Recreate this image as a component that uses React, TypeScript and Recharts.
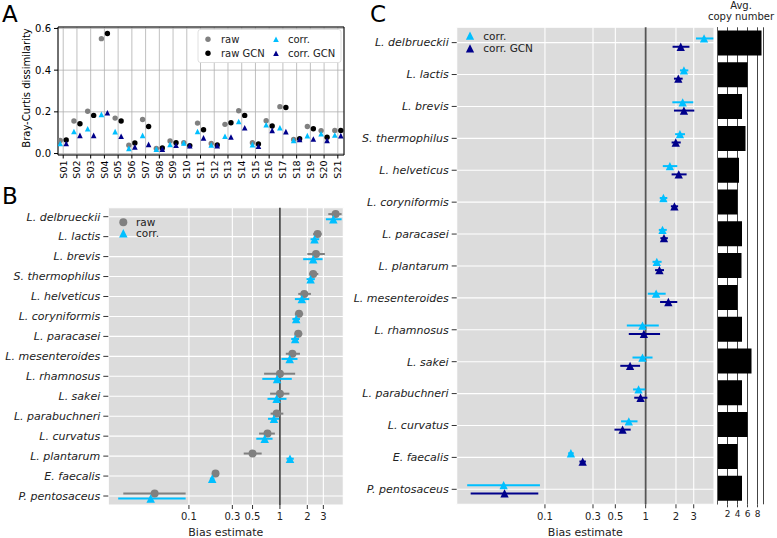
import React from "react";
import {
  ScatterChart,
  Scatter,
  XAxis,
  YAxis,
  CartesianGrid,
  ErrorBar,
  ReferenceLine,
  BarChart,
  Bar,
} from "recharts";

const FONT = '"DejaVu Sans", sans-serif';
const GREY = "#808080";
const BLACK = "#000000";
const SKY = "#00bfff";
const NAVY = "#00008b";
const TXT = "#222";

// ---- panel A: Bray-Curtis dissimilarity per sample ----
const samples = [
  "S01", "S02", "S03", "S04", "S05", "S06", "S07", "S08", "S09", "S10", "S11",
  "S12", "S13", "S14", "S15", "S16", "S17", "S18", "S19", "S20", "S21",
];
const bcRaw = [0.063, 0.156, 0.203, 0.551, 0.170, 0.040, 0.163, 0.024, 0.060, 0.052, 0.146, 0.048, 0.140, 0.205, 0.052, 0.157, 0.225, 0.067, 0.130, 0.110, 0.111];
const bcRawGcn = [0.065, 0.143, 0.183, 0.576, 0.156, 0.051, 0.130, 0.027, 0.052, 0.038, 0.114, 0.041, 0.148, 0.183, 0.046, 0.132, 0.221, 0.071, 0.119, 0.078, 0.111];
const bcCorr = [0.048, 0.106, 0.119, 0.188, 0.105, 0.025, 0.087, 0.021, 0.044, 0.051, 0.106, 0.041, 0.083, 0.154, 0.043, 0.138, 0.124, 0.063, 0.086, 0.095, 0.089];
const bcCorrGcn = [0.048, 0.087, 0.087, 0.196, 0.083, 0.032, 0.044, 0.021, 0.040, 0.038, 0.075, 0.038, 0.079, 0.124, 0.035, 0.111, 0.105, 0.067, 0.070, 0.063, 0.086];
const bcTicks = [0, 0.2, 0.4, 0.6];

// ---- panel B: bias estimates, raw vs corrected ----
const speciesB = [
  "L. delbrueckii", "L. lactis", "L. brevis", "S. thermophilus", "L. helveticus",
  "L. coryniformis", "L. paracasei", "L. mesenteroides", "L. rhamnosus", "L. sakei",
  "L. parabuchneri", "L. curvatus", "L. plantarum", "E. faecalis", "P. pentosaceus",
];
const rawB = [4.09, 2.59, 2.49, 2.32, 1.85, 1.62, 1.59, 1.37, 1.0, 1.0, 0.92, 0.73, 0.5, 0.196, 0.042];
const rawLoB = [3.4, 2.32, 2.0, 2.1, 1.59, 1.46, 1.45, 1.16, 0.67, 0.78, 0.79, 0.59, 0.4, 0.185, 0.019];
const rawHiB = [4.76, 2.87, 3.12, 2.64, 2.19, 1.8, 1.76, 1.66, 1.47, 1.27, 1.09, 0.88, 0.63, 0.21, 0.092];
const corrB = [3.86, 2.4, 2.32, 2.17, 1.74, 1.51, 1.47, 1.28, 0.93, 0.92, 0.86, 0.68, 1.29, 0.18, 0.038];
const corrLoB = [3.2, 2.17, 1.8, 1.96, 1.46, 1.37, 1.33, 1.04, 0.64, 0.73, 0.74, 0.55, 1.18, 0.17, 0.0167];
const corrHiB = [4.76, 2.7, 2.94, 2.42, 2.1, 1.66, 1.62, 1.56, 1.35, 1.18, 0.98, 0.83, 1.42, 0.19, 0.092];

// ---- panel C: corrected vs corrected with gene copy number ----
const speciesC = [
  "L. delbrueckii", "L. lactis", "L. brevis", "S. thermophilus", "L. helveticus",
  "L. coryniformis", "L. paracasei", "L. plantarum", "L. mesenteroides", "L. rhamnosus",
  "L. sakei", "L. parabuchneri", "L. curvatus", "E. faecalis", "P. pentosaceus",
];
const corrC = [3.8, 2.4, 2.33, 2.19, 1.74, 1.5, 1.47, 1.29, 1.27, 0.93, 0.93, 0.85, 0.68, 0.181, 0.0389];
const corrLoC = [3.16, 2.19, 1.84, 1.96, 1.48, 1.38, 1.35, 1.17, 1.05, 0.65, 0.74, 0.75, 0.57, 0.17, 0.0169];
const corrHiC = [4.7, 2.65, 2.97, 2.46, 2.06, 1.64, 1.62, 1.44, 1.58, 1.35, 1.17, 0.99, 0.83, 0.193, 0.0892];
const gcnC = [2.23, 2.11, 2.4, 1.99, 2.13, 1.93, 1.52, 1.37, 1.68, 0.96, 0.7, 0.89, 0.59, 0.237, 0.0397];
const gcnLoC = [1.85, 1.91, 1.91, 1.81, 1.81, 1.78, 1.4, 1.24, 1.39, 0.68, 0.56, 0.77, 0.49, 0.22, 0.0183];
const gcnHiC = [2.72, 2.33, 3.04, 2.23, 2.55, 2.1, 1.66, 1.52, 2.06, 1.39, 0.88, 1.04, 0.71, 0.255, 0.0859];
const copyNumber = [8.8, 6.0, 4.9, 5.6, 4.3, 4.0, 4.9, 4.8, 4.0, 4.9, 6.8, 4.9, 6.0, 4.0, 4.9];

const biasTicks = [0.1, 0.3, 0.5, 1, 2, 3];
const copyTicks = [2, 4, 6, 8];

// marker shapes (matplotlib-ish "o" and "^")
type Pt = { cx?: number; cy?: number };
const dot = (fill: string, r: number, dx = 0) => (p: Pt) => (
  <circle cx={(p.cx ?? 0) + dx} cy={p.cy ?? 0} r={r} fill={fill} />
);
const tri = (fill: string, s: number, dx = 0) => (p: Pt) => {
  const x = (p.cx ?? 0) + dx;
  const y = p.cy ?? 0;
  const h = s / 2;
  return <path d={`M${x},${y - h}L${x + h},${y + h}L${x - h},${y + h}Z`} fill={fill} />;
};

const pointsA = (vals: number[]) => vals.map((v, i) => ({ x: i + 1, v }));
const rowsWithErr = (vals: number[], lo: number[], hi: number[], shift: number) =>
  vals.map((v, i) => ({ x: v, y: i + shift, err: [v - lo[i], hi[i] - v] }));

const SampleTick = (p: any) => {
  const label = samples[Math.round(p.payload.value) - 1];
  return (
    <text
      x={p.x}
      y={p.y}
      transform={`rotate(-90 ${p.x} ${p.y})`}
      textAnchor="end"
      dy="0.35em"
      fontSize={9.5}
      fill="#000"
    >
      {label}
    </text>
  );
};

// plain italic species label, no wrapping
const speciesTick = (names: string[]) => (p: any) => (
  <text
    x={p.x}
    y={p.y}
    textAnchor="end"
    dy="0.35em"
    fontSize={11}
    fontStyle="italic"
    fill={TXT}
  >
    {names[Math.round(p.payload.value)]}
  </text>
);

function PanelA() {
  return (
    <ScatterChart width={350} height={200} margin={{ top: 27, right: 6, bottom: 0, left: 0 }}>
      <CartesianGrid stroke="#b0b0b0" strokeWidth={0.8} />
      <XAxis
        type="number"
        dataKey="x"
        domain={[0.62, 21.45]}
        allowDataOverflow
        ticks={samples.map((_, i) => i + 1)}
        interval={0}
        height={45}
        stroke="#000"
        tickSize={3.5}
        tickMargin={2}
        tick={SampleTick}
      />
      <YAxis
        type="number"
        dataKey="v"
        domain={[-0.007, 0.607]}
        allowDataOverflow
        ticks={bcTicks}
        interval={0}
        tickFormatter={(v: number) => v.toFixed(1)}
        width={58}
        stroke="#000"
        tickSize={4}
        tickMargin={3}
        tick={{ fill: "#000", fontSize: 10 }}
      />
      <ReferenceLine y={0.607} stroke="#000" ifOverflow="visible" />
      <ReferenceLine x={21.45} stroke="#000" ifOverflow="visible" />
      <Scatter data={pointsA(bcRaw)} fill={GREY} shape={dot(GREY, 2.7, -3)} isAnimationActive={false} />
      <Scatter data={pointsA(bcRawGcn)} fill={BLACK} shape={dot(BLACK, 2.7, 3)} isAnimationActive={false} />
      <Scatter data={pointsA(bcCorr)} fill={SKY} shape={tri(SKY, 5.6, -3)} isAnimationActive={false} />
      <Scatter data={pointsA(bcCorrGcn)} fill={NAVY} shape={tri(NAVY, 5.6, 3)} isAnimationActive={false} />
    </ScatterChart>
  );
}

function PanelB() {
  return (
    <ScatterChart width={350} height={368} margin={{ top: 37.7, right: 6.7, bottom: 0, left: 0 }}>
      <CartesianGrid fill="#dcdcdc" fillOpacity={1} stroke="#fff" strokeWidth={1.1} />
      <XAxis
        type="number"
        dataKey="x"
        scale="log"
        domain={[0.013, 4.97]}
        allowDataOverflow
        ticks={biasTicks}
        interval={0}
        height={33}
        axisLine={false}
        tickLine={{ stroke: "#333" }}
        tickSize={4}
        tickMargin={4}
        tick={{ fill: TXT, fontSize: 10 }}
        label={{ value: "Bias estimate", position: "insideBottom", offset: 2, fill: TXT, fontSize: 11 }}
      />
      <YAxis
        type="number"
        dataKey="y"
        reversed
        domain={[-0.45, 14.45]}
        allowDataOverflow
        ticks={speciesB.map((_, i) => i)}
        interval={0}
        width={108.3}
        axisLine={false}
        tickLine={{ stroke: "#333" }}
        tickSize={5}
        tickMargin={3}
        tick={speciesTick(speciesB)}
      />
      <ReferenceLine x={1} stroke="#111" strokeWidth={1.3} />
      <Scatter data={rowsWithErr(rawB, rawLoB, rawHiB, -0.13)} fill={GREY} shape={dot(GREY, 4)} isAnimationActive={false}>
        <ErrorBar dataKey="err" direction="x" width={0} stroke={GREY} strokeWidth={2} />
      </Scatter>
      <Scatter data={rowsWithErr(corrB, corrLoB, corrHiB, 0.13)} fill={SKY} shape={tri(SKY, 8.5)} isAnimationActive={false}>
        <ErrorBar dataKey="err" direction="x" width={0} stroke={SKY} strokeWidth={2} />
      </Scatter>
    </ScatterChart>
  );
}

function PanelC() {
  return (
    <ScatterChart width={366} height={538} margin={{ top: 27.3, right: 2, bottom: 0, left: 0 }}>
      <CartesianGrid fill="#dcdcdc" fillOpacity={1} stroke="#fff" strokeWidth={1.1} />
      <XAxis
        type="number"
        dataKey="x"
        scale="log"
        domain={[0.0133, 4.77]}
        allowDataOverflow
        ticks={biasTicks}
        interval={0}
        height={33.7}
        axisLine={false}
        tickLine={{ stroke: "#333" }}
        tickSize={4}
        tickMargin={5}
        tick={{ fill: TXT, fontSize: 10 }}
        label={{ value: "Bias estimate", position: "insideBottom", offset: 2, fill: TXT, fontSize: 11 }}
      />
      <YAxis
        type="number"
        dataKey="y"
        reversed
        domain={[-0.48, 14.47]}
        allowDataOverflow
        ticks={speciesC.map((_, i) => i)}
        interval={0}
        width={106.7}
        axisLine={false}
        tickLine={{ stroke: "#333" }}
        tickSize={5}
        tickMargin={3}
        tick={speciesTick(speciesC)}
      />
      <ReferenceLine x={1} stroke="#555" strokeWidth={1.8} />
      <Scatter data={rowsWithErr(corrC, corrLoC, corrHiC, -0.13)} fill={SKY} shape={tri(SKY, 8.3)} isAnimationActive={false}>
        <ErrorBar dataKey="err" direction="x" width={0} stroke={SKY} strokeWidth={2} />
      </Scatter>
      <Scatter data={rowsWithErr(gcnC, gcnLoC, gcnHiC, 0.13)} fill={NAVY} shape={tri(NAVY, 8.3)} isAnimationActive={false}>
        <ErrorBar dataKey="err" direction="x" width={0} stroke={NAVY} strokeWidth={2} />
      </Scatter>
    </ScatterChart>
  );
}

function CopyPanel() {
  const rows = speciesC.map((name, i) => ({ name, copies: copyNumber[i] }));
  return (
    <BarChart
      layout="vertical"
      data={rows}
      width={61}
      height={538}
      margin={{ top: 27.3, right: 13.5, bottom: 0, left: 1.5 }}
      barCategoryGap="10%"
    >
      <CartesianGrid horizontal={false} stroke="#444" />
      <XAxis
        type="number"
        domain={[0, 9.2]}
        allowDataOverflow
        ticks={copyTicks}
        interval={0}
        height={33.7}
        axisLine={false}
        tickLine={{ stroke: "#444" }}
        tickSize={3}
        tickMargin={3}
        tick={{ fill: TXT, fontSize: 9 }}
      />
      <YAxis type="category" dataKey="name" hide />
      <ReferenceLine x={0} stroke="#555" />
      <Bar dataKey="copies" fill="#000" isAnimationActive={false} />
    </BarChart>
  );
}

function Overlay() {
  const t = { fontFamily: FONT, fill: TXT } as const;
  return (
    <svg width={777} height={538} style={{ position: "absolute", left: 0, top: 0, pointerEvents: "none" }}>
      <text x={2} y={22} fontSize={23} fill="#000" fontFamily={FONT}>A</text>
      <text x={2} y={203.5} fontSize={23} fill="#000" fontFamily={FONT}>B</text>
      <text x={370} y={22} fontSize={23} fill="#000" fontFamily={FONT}>C</text>

      <text transform="translate(29.5, 88) rotate(-90)" textAnchor="middle" fontSize={10} {...t} fill="#000">
        Bray-Curtis dissimilarity
      </text>

      {/* legend A */}
      <rect x={198} y={29.5} width={143} height={33} rx={2.5} fill="#fff" stroke="#d8d8d8" strokeWidth={0.8} />
      {dot(GREY, 2.7)({ cx: 208, cy: 39.3 })}
      {dot(BLACK, 2.7)({ cx: 208, cy: 53.3 })}
      {tri(SKY, 5.6)({ cx: 276, cy: 39.3 })}
      {tri(NAVY, 5.6)({ cx: 276, cy: 53.3 })}
      <text x={221} y={42.8} fontSize={10} {...t}>raw</text>
      <text x={221} y={56.8} fontSize={10} {...t}>raw GCN</text>
      <text x={288} y={42.8} fontSize={10} {...t}>corr.</text>
      <text x={288} y={56.8} fontSize={10} {...t}>corr. GCN</text>

      {/* legend B */}
      {dot(GREY, 4)({ cx: 123.3, cy: 222.3 })}
      {tri(SKY, 8.5)({ cx: 123.3, cy: 233.3 })}
      <text x={136} y={226} fontSize={10.5} {...t}>raw</text>
      <text x={136} y={237} fontSize={10.5} {...t}>corr.</text>

      {/* legend C */}
      {tri(SKY, 8.3)({ cx: 470, cy: 35.7 })}
      {tri(NAVY, 8.3)({ cx: 470, cy: 48.3 })}
      <text x={483.3} y={39.5} fontSize={10.5} {...t}>corr.</text>
      <text x={483.3} y={52} fontSize={10.5} {...t}>corr. GCN</text>

      {/* copy number title */}
      <text x={741} y={9} textAnchor="middle" fontSize={10} {...t}>Avg.</text>
      <text x={741} y={19.5} textAnchor="middle" fontSize={10} {...t}>copy number</text>
    </svg>
  );
}

export default function App() {
  return (
    <div
      style={{
        position: "absolute",
        left: 0,
        top: 0,
        width: 777,
        height: 538,
        background: "#fff",
        fontFamily: FONT,
        overflow: "hidden",
      }}
    >
      <div style={{ position: "absolute", left: 0, top: 0 }}>
        <PanelA />
      </div>
      <div style={{ position: "absolute", left: 0, top: 170 }}>
        <PanelB />
      </div>
      <div style={{ position: "absolute", left: 350, top: 0 }}>
        <PanelC />
      </div>
      <div style={{ position: "absolute", left: 716, top: 0 }}>
        <CopyPanel />
      </div>
      <Overlay />
    </div>
  );
}
